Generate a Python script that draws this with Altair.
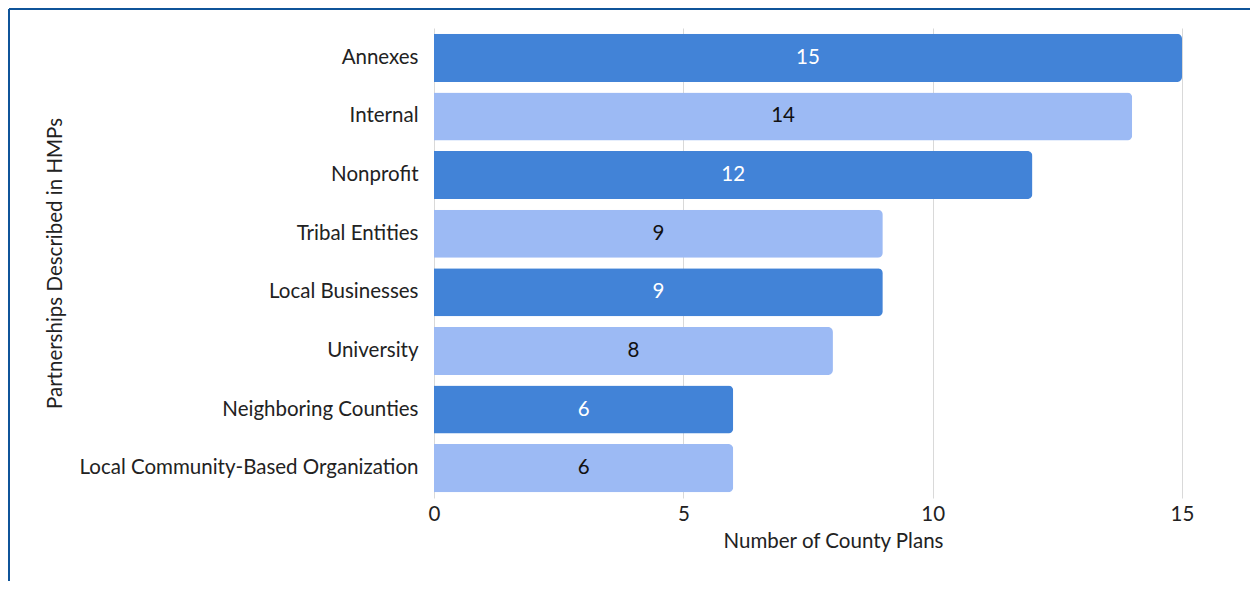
import altair as alt
import pandas as pd

categories = ["Annexes", "Internal", "Nonprofit", "Tribal Entities", "Local Businesses",
              "University", "Neighboring Counties", "Local Community-Based Organization"]
values = [15, 14, 12, 9, 9, 8, 6, 6]
shade = ["dark", "light", "dark", "light", "dark", "light", "dark", "light"]

df = pd.DataFrame({"cat": categories, "val": values, "shade": shade})
df["mid"] = df["val"] / 2

FONT = "Lato"
FS = 20.5
W, H = 748, 470
PL, PT = 426, 20
PR = 1242 - PL - W
PB = 573 - PT - H

y_enc = alt.Y("cat:N", sort=categories,
              scale=alt.Scale(paddingInner=0.18, paddingOuter=0.1),
              axis=alt.Axis(title="Partnerships Described in HMPs", labelFontSize=FS,
                            labelPadding=16, labelColor="#222", titleColor="#222",
                            titleFontSize=FS, titleFontWeight="normal", ticks=False,
                            domain=False, grid=False, labelLimit=400,
                            titleX=-379, titleY=H / 2, titleAlign="center",
                            titleBaseline="middle", titleAngle=-90))

x_scale = alt.Scale(domain=[0, 15], nice=False)

bars = alt.Chart(df).mark_bar(cornerRadiusEnd=5).encode(
    x=alt.X("val:Q", scale=x_scale,
            axis=alt.Axis(title="Number of County Plans", values=[0, 5, 10, 15],
                          labelFontSize=FS, labelColor="#222", titleColor="#222",
                          titleFontSize=FS, titleFontWeight="normal", ticks=False,
                          domain=False, gridColor="#d9d9d9", labelPadding=6,
                          labelFlush=False, labelBound=False,
                          titleX=399, titleY=43, titleAlign="center",
                          titleBaseline="middle")),
    y=y_enc,
    color=alt.Color("shade:N", scale=alt.Scale(domain=["dark", "light"],
                                               range=["#4283d7", "#9cbaf4"]), legend=None),
)

labels = alt.Chart(df).mark_text(fontSize=FS, font=FONT, baseline="middle").encode(
    x=alt.X("mid:Q", scale=x_scale),
    y=alt.Y("cat:N", sort=categories),
    text="val:Q",
    color=alt.Color("shade:N", scale=alt.Scale(domain=["dark", "light"],
                                               range=["#ffffff", "#111111"]), legend=None),
)

border_df = pd.DataFrame({"k": ["a"]})
border_left = alt.Chart(border_df).mark_rule(color="#0f5499", strokeWidth=2).encode(
    x=alt.value(-PL + 1), y=alt.value(-PT + 1), y2=alt.value(H + 200))
border_top = alt.Chart(border_df).mark_rule(color="#0f5499", strokeWidth=2).encode(
    x=alt.value(-PL + 1), x2=alt.value(W + 200), y=alt.value(-PT + 1))

chart = alt.layer(bars, labels, border_left, border_top).resolve_scale(
    color="independent"
).properties(
    width=W, height=H,
    autosize=alt.AutoSizeParams(type="none"),
    padding={"left": PL, "top": PT, "right": PR, "bottom": PB},
).configure(font=FONT).configure_view(stroke=None)

chart.save("out.html", embed_options={"renderer": "svg", "actions": False})
